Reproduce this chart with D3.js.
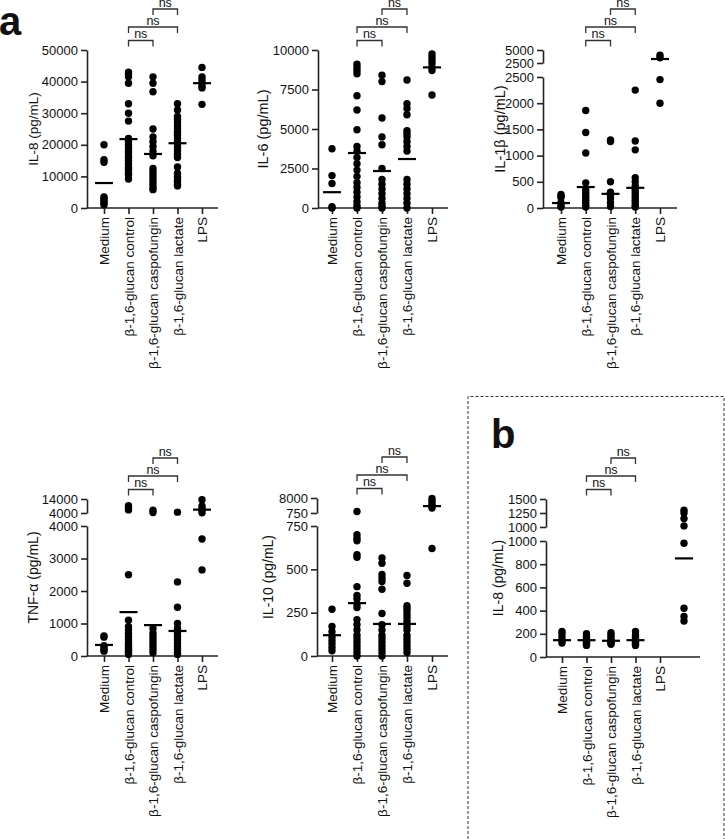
<!DOCTYPE html>
<html><head><meta charset="utf-8">
<script src="https://cdn.jsdelivr.net/npm/d3@7"></script>
<style>body{margin:0;background:#fff}text{font-family:"Liberation Sans",Arial,Helvetica,sans-serif;fill:#111}</style>
</head><body><svg id="c" width="725" height="839"></svg>
<script>
const categories = ["Medium","β-1,6-glucan control","β-1,6-glucan caspofungin","β-1,6-glucan lactate","LPS"];

// Panel a: IL-8
const il8Values = [
  [20000,15300,14500,3500,3000,2500,2000,1500,1000],
  [43000,42300,41500,39500,33000,30000,27500,22000,21000,20000,19000,18000,17500,16500,16000,15000,14000,13000,12500,12000,11000,10500,9200],
  [41500,39500,36800,25000,22500,21000,19500,18000,16500,12500,11500,10500,9500,8500,7500,6500,5800],
  [33000,31000,29000,28000,27000,26000,25000,24000,23000,22000,21000,20000,19000,18000,17000,16000,13000,11000,10000,9500,8500,7500,7000],
  [44500,41500,40500,39500,38500,38000,32800]
];
const il8Means = [7900,21800,17100,20500,39500];
const il8Ticks = [0,10000,20000,30000,40000,50000];

// Panel a: IL-6
const il6Values = [
  [3750,2050,1550,80,0],
  [9100,8900,8700,8500,7100,6200,4950,3900,3600,3200,2800,2400,2000,1600,1300,1000,700,400,150,0],
  [8400,8000,5700,4500,4000,2500,1800,1500,1200,900,600,300,100,0],
  [8100,6600,6300,5900,4900,4700,4500,4200,3900,3600,1800,1500,1200,900,600,300,0],
  [9750,9550,9350,9150,8900,8700,7150]
];
const il6Means = [1000,3480,2340,3100,8900];
const il6Ticks = [0,2500,5000,7500,10000];

// Panel a: IL-1β
const il1bValues = [
  [260,220,200,100,50,20],
  [1860,1440,1050,480,350,300,250,200,150,100,50,20],
  [1300,1270,500,300,250,180,100,30],
  [2250,1280,1110,580,500,420,350,300,250,200,150,100,50,20],
  [4000,3500,2450,2000]
];
const il1bMeans = [95,400,270,385,3270];
const il1bTicksLow = [0,500,1000,1500,2000,2500];
const il1bTicksHigh = [2500,5000];

// Panel a: TNF-α
const tnfValues = [
  [620,580,320,250,200,150],
  [9200,7800,6200,2500,1100,900,800,700,600,500,400,350,300,250,200,150,100,50],
  [6000,4300,850,700,600,500,400,300,200,100],
  [4600,2280,1500,1000,850,700,600,500,400,300,200,100,50],
  [13500,9000,7200,6000,4200,3600,2650]
];
const tnfMeans = [340,1350,950,770,6400];
const tnfTicksLow = [0,1000,2000,3000,4000];
const tnfTicksHigh = [4000,14000];

// Panel a: IL-10
const il10Values = [
  [270,170,140,110,90,70,50,30],
  [1500,700,680,665,585,570,400,350,330,300,280,210,180,150,120,100,80,60,40,20,0],
  [565,535,470,450,430,385,245,180,150,120,100,80,60,40,20,0],
  [465,420,290,275,260,240,220,200,170,150,120,100,80,60,40,20],
  [7800,6500,5200,4300,3200,620]
];
const il10Means = [120,305,185,185,4100];
const il10TicksLow = [0,250,500,750];
const il10TicksHigh = [750,8000];

// Panel b: IL-8
const bValues = [
  [220,200,170,140,120],
  [200,180,170,150,130,120,110,100],
  [210,190,170,150,130,120,110],
  [220,190,170,150,130,120,110,100],
  [1300,1250,1150,1020,980,420,350,310]
];
const bMeans = [145,145,140,145,850];
const bTicksLow = [0,200,400,600,800,1000];
const bTicksHigh = [1000,1250,1500];

const comparisons = [[1,2],[1,3],[2,3]];
const compLabels = ["ns","ns","ns"];

const panels = [
  {title:"IL-8 (pg/mL)", values:il8Values, means:il8Means, axisX:87, cat:[104,202], axisEnd:218, titleX:33, tfs:13.5,
   segs:[{d:[0,50000], r:[208,50], t:il8Ticks}]},
  {title:"IL-6 (pg/mL)", values:il6Values, means:il6Means, axisX:318, cat:[332,432], axisEnd:448, titleX:263, tfs:14.5,
   segs:[{d:[0,10000], r:[208,50], t:il6Ticks}]},
  {title:"IL-1β (pg/mL)", values:il1bValues, means:il1bMeans, axisX:543, cat:[561,660], axisEnd:677, titleX:500, tfs:14.5,
   segs:[{d:[0,2500], r:[208,77], t:il1bTicksLow},{d:[2500,5000], r:[63,50], t:il1bTicksHigh}]},
  {title:"TNF-α (pg/mL)", values:tnfValues, means:tnfMeans, axisX:87, cat:[104,202], axisEnd:218, titleX:33, tfs:14,
   segs:[{d:[0,4000], r:[656,526], t:tnfTicksLow},{d:[4000,14000], r:[513,499], t:tnfTicksHigh}]},
  {title:"IL-10 (pg/mL)", values:il10Values, means:il10Means, axisX:317, cat:[332,432], axisEnd:448, titleX:268, tfs:14,
   segs:[{d:[0,750], r:[656,526], t:il10TicksLow},{d:[750,8000], r:[513,498], t:il10TicksHigh}]},
  {title:"IL-8 (pg/mL)", values:bValues, means:bMeans, axisX:546, cat:[562,660], axisEnd:700, titleX:498, tfs:14, lpsShift:24,
   segs:[{d:[0,1000], r:[657,541], t:bTicksLow},{d:[1000,1500], r:[527,499], t:bTicksHigh}]}
];

const svg = d3.select("#c");
const AX = "#222";

panels.forEach(p => {
  const g = svg.append("g");
  const scales = p.segs.map(s => d3.scaleLinear().domain(s.d).range(s.r));
  const y = v => { for (let i=0;i<p.segs.length;i++){ if (v <= p.segs[i].d[1]) return scales[i](v);} return scales[scales.length-1](v); };
  const x = d3.scalePoint().domain(categories).range(p.cat);
  const xd = (i) => x(categories[i]) + ((i===4 && p.lpsShift) ? p.lpsShift : 0);
  const bottom = p.segs[0].r[0];
  const top = p.segs[p.segs.length-1].r[1];

  // y axis segments
  scales.forEach((sc,i) => {
    const ax = g.append("g").attr("transform",`translate(${p.axisX},0)`)
      .call(d3.axisLeft(sc).tickValues(p.segs[i].t).tickSize(6).tickSizeOuter(0).tickPadding(3).tickFormat(d3.format("d")));
    ax.select(".domain").attr("stroke",AX).attr("stroke-width",1.6);
    ax.selectAll(".tick line").attr("stroke",AX).attr("stroke-width",1.6);
    ax.selectAll(".tick text").style("font-size","13px").style("font-family","'Liberation Sans',Arial,sans-serif").attr("fill","#111");
  });

  // x axis
  g.append("line").attr("x1",p.axisX).attr("x2",p.axisEnd).attr("y1",bottom).attr("y2",bottom).attr("stroke",AX).attr("stroke-width",1.6);
  const xa = g.append("g").attr("transform",`translate(0,${bottom})`)
    .call(d3.axisBottom(x).tickSize(6).tickSizeOuter(0));
  xa.select(".domain").remove();
  xa.selectAll(".tick line").attr("stroke",AX).attr("stroke-width",1.6);
  xa.selectAll(".tick text").style("font-size","13.5px").style("font-family","'Liberation Sans',Arial,sans-serif").attr("fill","#111")
    .attr("transform","rotate(-90)").attr("x",-9).attr("y",0).attr("dy","0.35em").style("text-anchor","end");

  // y title
  g.append("text").attr("transform",`translate(${p.titleX},${(top+bottom)/2}) rotate(-90)`)
    .attr("text-anchor","middle").attr("dy","0.35em").style("font-size",p.tfs+"px").text(p.title);

  // dots
  p.values.forEach((arr,i) => {
    g.selectAll(null).data(arr).enter().append("circle")
      .attr("cx", xd(i)).attr("cy", d => y(d)).attr("r",3.7).attr("fill","#000");
  });
  // means
  g.selectAll(null).data(p.means).enter().append("line")
    .attr("x1",(d,i)=>xd(i)-9).attr("x2",(d,i)=>xd(i)+9)
    .attr("y1",d=>y(d)).attr("y2",d=>y(d)).attr("stroke","#000").attr("stroke-width",2.2);

  // brackets
  const levels = [top-9.5, top-23, top-41];
  comparisons.forEach((c,k) => {
    const ly = levels[k], x1 = x(categories[c[0]]), x2 = x(categories[c[1]]);
    g.append("path").attr("d",`M${x1},${ly+6}V${ly}H${x2}V${ly+6}`).attr("fill","none").attr("stroke","#333").attr("stroke-width",1.3);
    g.append("text").attr("x",(x1+x2)/2).attr("y",ly-2.2).attr("text-anchor","middle").style("font-size","12.5px").text(compLabels[k]);
  });
});

// panel letters
svg.append("text").attr("x",-1).attr("y",35).style("font-size","40px").style("font-weight","bold").text("a");
svg.append("text").attr("x",491).attr("y",448).style("font-size","40px").style("font-weight","bold").text("b");

// dashed box around panel b
svg.append("path").attr("d","M468,839V396.5H724V839").attr("fill","none").attr("stroke","#333").attr("stroke-width",1).attr("stroke-dasharray","3,2");
</script></body></html>
